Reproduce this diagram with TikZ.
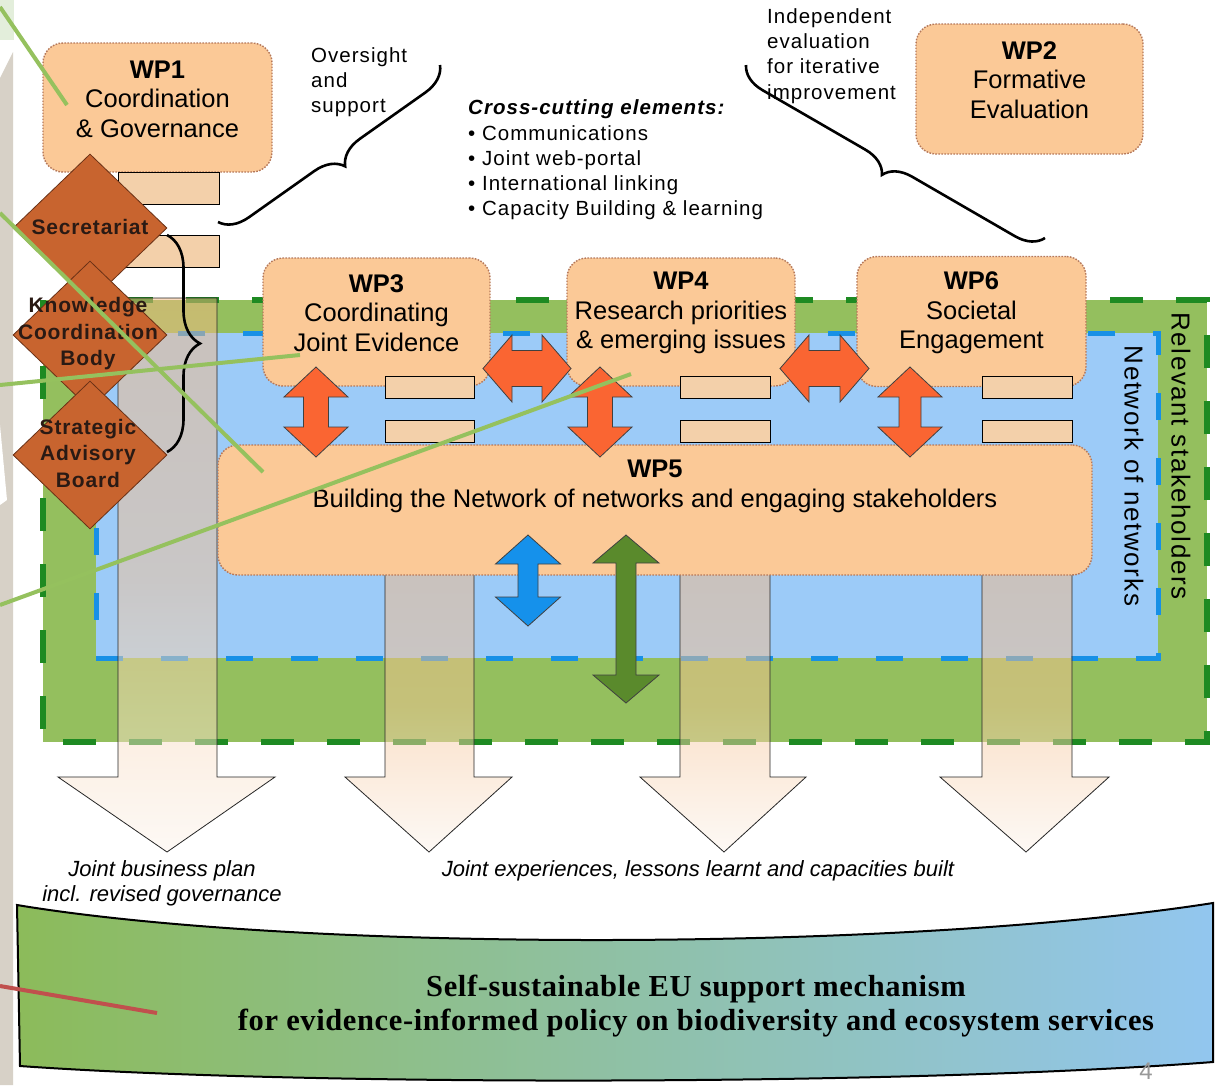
\documentclass[tikz,border=0pt]{standalone}
\usepackage{fontspec}
\setsansfont{Liberation Sans}
\newfontfamily\spfont[LetterSpace=6]{Liberation Sans}
\newfontfamily\smfont[LetterSpace=5]{Liberation Sans}
\newfontfamily\dmfont[LetterSpace=4]{Liberation Sans}
\newfontfamily\banfont[LetterSpace=2]{Liberation Serif}
\usetikzlibrary{shapes.geometric,decorations.pathreplacing}
\definecolor{wpfill}{HTML}{FBC997}
\definecolor{wpborder}{HTML}{B5785A}
\definecolor{diafill}{HTML}{C8642F}
\definecolor{diabord}{HTML}{6A3116}
\definecolor{greenfill}{HTML}{94BF5E}
\definecolor{greendash}{HTML}{1E8A22}
\definecolor{bluefill}{HTML}{9CCBF8}
\definecolor{bluedash}{HTML}{1790E6}
\definecolor{orangearr}{HTML}{FA6532}
\definecolor{bluearr}{HTML}{1591EB}
\definecolor{greenarr}{HTML}{5A8A2C}
\definecolor{annot}{HTML}{95C15E}
\definecolor{redline}{HTML}{C0504D}
\definecolor{stripc}{HTML}{D7D1C7}
\definecolor{stripgreen}{HTML}{E3EEDB}
\definecolor{piecec}{HTML}{F3D0AA}
\definecolor{coltop}{HTML}{F6B982}
\definecolor{colmid}{HTML}{F7C496}
\definecolor{colbot}{HTML}{FCF4EC}
\definecolor{bangreen}{HTML}{8CBB5A}
\definecolor{banblue}{HTML}{92C6EF}
\definecolor{diatext}{HTML}{2A1A14}
% vertical double block arrow: cx, ytop, ybot, head half width, shaft half width, head length, style
\newcommand{\vdarr}[7]{\draw[#7] (#1,#2) -- ({#1+#4},{#2+#6}) -- ({#1+#5},{#2+#6}) -- ({#1+#5},{#3-#6}) -- ({#1+#4},{#3-#6}) -- (#1,#3) -- ({#1-#4},{#3-#6}) -- ({#1-#5},{#3-#6}) -- ({#1-#5},{#2+#6}) -- ({#1-#4},{#2+#6}) -- cycle;}
% horizontal double block arrow: cy, xleft, xright, head half height, shaft half height, head length, style
\newcommand{\hdarr}[7]{\draw[#7] (#2,#1) -- ({#2+#6},{#1-#4}) -- ({#2+#6},{#1-#5}) -- ({#3-#6},{#1-#5}) -- ({#3-#6},{#1-#4}) -- (#3,#1) -- ({#3-#6},{#1+#4}) -- ({#3-#6},{#1+#5}) -- ({#2+#6},{#1+#5}) -- ({#2+#6},{#1+#4}) -- cycle;}
% big down arrow: x1, x2, ytop, yhead, hx1, hx2, tipx, ytip
\newcommand{\bigdown}[8]{\draw[bigarr] (#1,#3) -- (#2,#3) -- (#2,#4) -- (#6,#4) -- (#7,#8) -- (#5,#4) -- (#1,#4) -- cycle;}
\tikzset{
  wpbox/.style={draw=wpborder, line width=1.4pt, dash pattern=on 1.6pt off 1.4pt, fill=wpfill, rounded corners=20pt, inner sep=0pt},
  wptext/.style={align=center, inner sep=0pt, text=black, font=\sffamily\fontsize{25.5}{29.5}\selectfont},
  dia/.style={diamond, draw=diabord, fill=diafill, line width=0.8pt, minimum width=154pt, minimum height=148pt, inner sep=0pt},
  diat/.style={align=center, inner sep=0pt, text=diatext, font=\dmfont\bfseries\fontsize{21}{26.5}\selectfont},
  smalltext/.style={align=left, inner sep=0pt, anchor=west, font=\smfont\fontsize{20.5}{25.3}\selectfont},
  rottext/.style={rotate=-90, inner sep=0pt, font=\spfont\fontsize{26}{30}\selectfont},
  ittext/.style={align=center, inner sep=0pt, font=\sffamily\itshape\fontsize{22}{25}\selectfont},
  bigarr/.style={draw=black!85, line width=0.8pt, fill opacity=0.5, top color=coltop, bottom color=colbot, middle color=colmid},
  piece/.style={draw=black, line width=1pt, fill=piecec},
  oarr/.style={draw=black!75, line width=0.8pt, fill=orangearr},
  barr/.style={draw=black!75, line width=0.8pt, fill=bluearr},
  garr/.style={draw=black!75, line width=0.8pt, fill=greenarr},
  bracestyle/.style={draw=black, line width=2.6pt, decorate},
  annotline/.style={draw=annot, line width=4pt},
}
\begin{document}
\begin{tikzpicture}[x=1pt,y=-1pt,font=\sffamily]
\useasboundingbox (0,0) rectangle (1215,1085);
\fill[white] (0,0) rectangle (1215,1085);
% slide edge strip
\fill[stripgreen] (0,0) rectangle (14,40);
\fill[stripc] (0,78) -- (13,52) -- (13,1085) -- (0,1085) -- cycle;
\fill[white] (0,425) -- (7,500) -- (0,505) -- cycle;
% relevant stakeholders area
\fill[greenfill] (43,300) rectangle (1207,742);
\draw[greendash, line width=6pt, dash pattern=on 33pt off 33pt] (43,300) rectangle (1207,742);
% network of networks area
\fill[bluefill] (96,333) rectangle (1158,658);
\draw[bluedash, line width=5pt, dash pattern=on 27pt off 38pt] (96,333) rectangle (1158,658);
% big output arrows
\bigdown{118}{217}{298}{777}{58}{275}{167}{852}
\bigdown{385}{474}{560}{777}{345}{512}{429}{852}
\bigdown{680}{770}{560}{777}{640}{806}{724}{852}
\bigdown{982}{1072}{560}{777}{940}{1109}{1026}{852}
% area labels
\node[rottext] (relst) at (1181,456) {Relevant stakeholders};
\node[rottext] (netnet) at (1134,476) {Network of networks};
% work packages
\node[wpbox, minimum width=229pt, minimum height=129pt] (wp1) at (157.5,107.5) {};
\node[wptext] (wp1t) at (157.5,99) {{\bfseries WP1}\\Coordination\\\& Governance};
\node[wpbox, minimum width=227pt, minimum height=130pt] (wp2) at (1029.5,89) {};
\node[wptext] (wp2t) at (1029.5,80) {{\bfseries WP2}\\Formative\\Evaluation};
\node[wpbox, minimum width=227pt, minimum height=128pt] (wp3) at (376.5,322) {};
\node[wptext] (wp3t) at (376.5,313) {{\bfseries WP3}\\Coordinating\\Joint Evidence};
\node[wpbox, minimum width=228pt, minimum height=128pt] (wp4) at (681,322) {};
\node[wptext] (wp4t) at (681,313) {{\bfseries WP4}\\Research priorities\\\& emerging issues};
\node[wpbox, minimum width=229pt, minimum height=130pt] (wp6) at (971.5,321.5) {};
\node[wptext] (wp6t) at (971.5,313) {{\bfseries WP6}\\Societal\\Engagement};
\node[wpbox, minimum width=874pt, minimum height=130pt] (wp5) at (655,510) {};
\node[wptext, font=\sffamily\fontsize{25.5}{30}\selectfont] (wp5t) at (655,486) {{\bfseries WP5}\\Building the Network of networks and engaging stakeholders};
% visible pieces of the output arrows
\draw[piece] (118,172) rectangle (219,204);
\draw[piece] (118,235) rectangle (219,267);
\draw[piece] (385,376) rectangle (474,398);
\draw[piece] (385,420) rectangle (474,442);
\draw[piece] (680,376) rectangle (770,398);
\draw[piece] (680,420) rectangle (770,442);
\draw[piece] (982,376) rectangle (1072,398);
\draw[piece] (982,420) rectangle (1072,442);
% interaction arrows
\vdarr{316}{367}{457}{32}{12.5}{30}{oarr}
\vdarr{600}{367}{457}{32}{12.5}{30}{oarr}
\vdarr{910}{367}{457}{32}{11}{30}{oarr}
\hdarr{368.5}{483}{571}{33.5}{18}{29}{oarr}
\hdarr{368.5}{780}{869}{33.5}{18}{29}{oarr}
\vdarr{528}{535}{626}{32.5}{10}{29}{barr}
\vdarr{626}{535}{703}{33}{10}{28}{garr}
% governance bodies
\node[dia] (sec) at (90,228) {};
\node[diat] (sect) at (90,227) {Secretariat};
\node[dia] (kcb) at (90,335) {};
\node[diat] (kcbt) at (88,334) {Knowledge\\Coordination\\Body};
\node[dia] (sab) at (90,455) {};
\node[diat] (sabt) at (88,453) {Strategic\\Advisory\\Board};
% braces
\coordinate (br1a) at (440,65);
\coordinate (br1b) at (218,222);
\draw[bracestyle, decoration={brace, amplitude=28pt}] (br1a) -- (br1b);
\coordinate (br2a) at (1045,238);
\coordinate (br2b) at (746,65);
\draw[bracestyle, decoration={brace, amplitude=27pt}] (br2a) -- (br2b);
\coordinate (br3a) at (167,235);
\coordinate (br3b) at (167,452);
\draw[bracestyle, decoration={brace, amplitude=33pt}] (br3a) -- (br3b);
% free texts
\node[smalltext] (overs) at (311,82) {Oversight\\and\\support};
\node[smalltext] (indep) at (767,56) {Independent\\evaluation\\for iterative\\improvement};
\node[smalltext] (cross) at (468,160) {{\bfseries\itshape Cross-cutting elements:}\\• Communications\\• Joint web-portal\\• International linking\\• Capacity Building \& learning};
\node[ittext] (jbp) at (162,883.5) {Joint business plan\\incl. revised governance};
\node[ittext] (jexp) at (698,871) {Joint experiences, lessons learnt and capacities built};
% outcome banner
\path[draw=black, line width=2pt, left color=bangreen, right color=banblue] (17,905) .. controls (300,952) and (900,952) .. (1213,903) -- (1213,1062) .. controls (900,1086) and (300,1086) .. (20,1066) -- cycle;
\node[align=center, inner sep=0pt, font=\banfont\bfseries\fontsize{30.5}{33.5}\selectfont] (banner) at (696,1006) {Self-sustainable EU support mechanism\\for evidence-informed policy on biodiversity and ecosystem services};
\node[inner sep=0pt, text=black!40, font=\sffamily\fontsize{24}{28}\selectfont] (pageno) at (1146,1071) {4};
% annotation lines
\coordinate (l1a) at (0,7);   \coordinate (l1b) at (67,105);
\coordinate (l2a) at (0,213); \coordinate (l2b) at (263,472);
\coordinate (l3a) at (0,385); \coordinate (l3b) at (300,355);
\coordinate (l4a) at (0,605); \coordinate (l4b) at (631,374);
\draw[annotline] (l1a) -- (l1b);
\draw[annotline] (l2a) -- (l2b);
\draw[annotline] (l3a) -- (l3b);
\draw[annotline] (l4a) -- (l4b);
\coordinate (r1a) at (0,986); \coordinate (r1b) at (157,1013);
\draw[draw=redline, line width=4pt] (r1a) -- (r1b);
\end{tikzpicture}
\end{document}
